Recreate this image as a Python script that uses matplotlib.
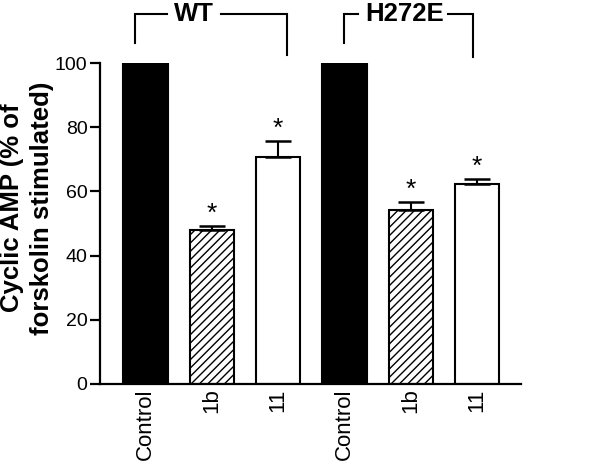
import matplotlib
matplotlib.use("Agg")
import matplotlib.pyplot as plt
import matplotlib.transforms as mtransforms

plt.rcParams['font.family'] = ['Liberation Sans', 'DejaVu Sans']

categories = ["Control", "1b", "11", "Control", "1b", "11"]
values = [100, 48, 70.6, 100, 54.2, 62.3]
errors = [0, 1.3, 5.0, 0, 2.4, 1.6]
significant = [False, True, True, False, True, True]
fills = ["black", "white", "white", "black", "white", "white"]
hatches = ["", "////", "", "", "////", ""]
groups = ["WT", "H272E"]
yticks = [0, 20, 40, 60, 80, 100]

fig = plt.figure(figsize=(6.01, 4.62), dpi=100)
ax = fig.add_axes([100/601, 1-384/462, 421/601, 321/462])

x = list(range(len(categories)))
plt.rcParams['hatch.linewidth'] = 1.0
bars = ax.bar(x, values, width=0.67, color=fills, edgecolor="black",
              linewidth=1.5, zorder=2)
for b, h in zip(bars, hatches):
    b.set_hatch(h)

for xi, v, e, s in zip(x, values, errors, significant):
    if e > 0:
        ax.errorbar(xi, v, yerr=[[0], [e]], fmt="none", ecolor="black",
                    elinewidth=1.5, capsize=9.5, capthick=1.8, zorder=3)
    if s:
        ax.annotate("*", (xi, v + e), xytext=(0, 0), textcoords="offset points",
                    ha="center", va="bottom", fontsize=19)

ax.set_xlim(-0.686, 5.66)
ax.set_ylim(0, 100)
ax.set_yticks(yticks)
ax.set_yticklabels([str(t) for t in yticks], fontsize=14)
ax.set_xticks(x)
ax.set_xticklabels(categories, rotation=90, fontsize=16)
ax.tick_params(axis="x", length=0, pad=3)
ax.tick_params(axis="y", length=7, width=1.6, pad=2, direction="out")
for side in ["top", "right"]:
    ax.spines[side].set_visible(False)
ax.spines["left"].set_linewidth(1.6)
ax.spines["bottom"].set_linewidth(1.6)

fig.text(27/601, 1-208/462, "Cyclic AMP (% of\nforskolin stimulated)",
         rotation=90, ha="center", va="center", fontsize=18.5,
         fontweight="bold", linespacing=1.3)

trans = mtransforms.blended_transform_factory(ax.transData, ax.transAxes)
yb = 1.1526
brackets = [
    # (left x, left bottom, left seg end, text x, right seg start, right x, right bottom)
    (-0.158, 1.062, 0.32, 0.735, 1.134, 2.14, 1.025),
    (2.994, 1.062, 3.21, 3.9, 4.567, 4.944, 1.019),
]
for g, (lx, lb, le, tx, rs, rx, rb) in zip(groups, brackets):
    ax.plot([lx, lx, le], [lb, yb, yb], color="black", lw=1.5,
            transform=trans, clip_on=False, solid_joinstyle="miter")
    ax.plot([rs, rx, rx], [yb, yb, rb], color="black", lw=1.5,
            transform=trans, clip_on=False, solid_joinstyle="miter")
    ax.text(tx, yb, g, transform=trans, ha="center", va="center",
            fontsize=18.5, fontweight="bold")

fig.savefig("out.png", dpi=100)
